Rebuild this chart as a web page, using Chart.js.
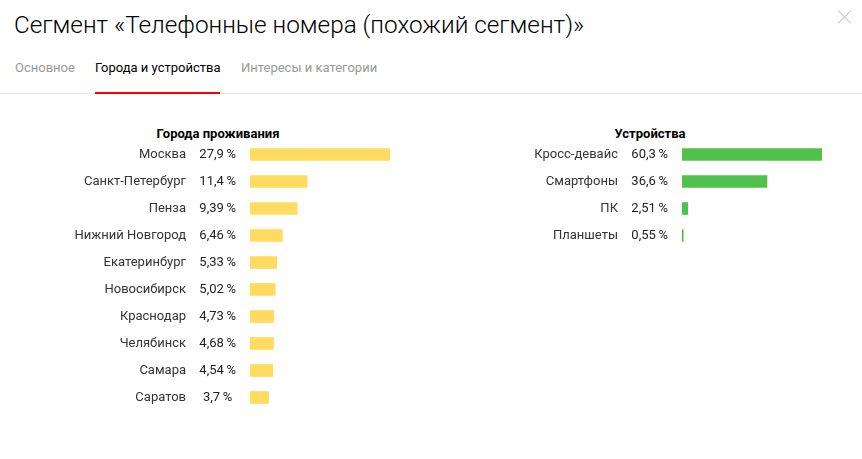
<!DOCTYPE html>
<html>
<head>
<meta charset="utf-8">
<script src="https://cdn.jsdelivr.net/npm/chart.js@4"></script>
<style>
  html, body { margin: 0; padding: 0; background: #fff; }
  body { width: 862px; height: 459px; position: relative; overflow: hidden; font-family: Roboto, "Open Sans", sans-serif; color: #000; }
  .titulo { position: absolute; left: 14px; top: 10px; font-size: 24.3px; font-weight: 300; white-space: nowrap; }
  .fechar { position: absolute; left: 838px; top: 10px; width: 14px; height: 14px; }
  .fechar:before, .fechar:after { content: ""; position: absolute; left: 6px; top: -2px; width: 1px; height: 18px; background: #c8c8c8; }
  .fechar:before { transform: rotate(45deg); }
  .fechar:after { transform: rotate(-45deg); }
  .abas { position: absolute; left: 0; top: 60px; width: 862px; height: 33px; border-bottom: 1px solid #e6e6e6; }
  .aba { position: absolute; top: 0; font-size: 13px; color: #999; white-space: nowrap; }
  .aba.ativa { color: #000; }
  .aba.ativa:after { content: ""; position: absolute; left: 0; right: 0; top: 32px; height: 2px; background: #f00; }
  .cabecalho { position: absolute; top: 126px; font-size: 13px; font-weight: bold; color: #000; transform: translateX(-50%); white-space: nowrap; }
  .caixa { position: absolute; }
</style>
</head>
<body>
<div class="titulo">Сегмент «Телефонные номера (похожий сегмент)»</div>
<div class="fechar"></div>
<div class="abas">
  <span class="aba" style="left:15px">Основное</span>
  <span class="aba ativa" style="left:95px">Города и устройства</span>
  <span class="aba" style="left:241px">Интересы и категории</span>
</div>
<div class="cabecalho" style="left:218px">Города проживания</div>
<div class="cabecalho" style="left:650px">Устройства</div>

<div class="caixa" style="left:40px; top:141px; width:350px; height:270px;"><canvas id="graficoCidades"></canvas></div>
<div class="caixa" style="left:480px; top:141px; width:342px; height:108px;"><canvas id="graficoDispositivos"></canvas></div>

<script>
var cidades = ['Москва', 'Санкт-Петербург', 'Пенза', 'Нижний Новгород', 'Екатеринбург', 'Новосибирск', 'Краснодар', 'Челябинск', 'Самара', 'Саратов'];
var valoresCidades = [27.9, 11.4, 9.39, 6.46, 5.33, 5.02, 4.73, 4.68, 4.54, 3.7];

var dispositivos = ['Кросс-девайс', 'Смартфоны', 'ПК', 'Планшеты'];
var valoresDispositivos = [60.3, 36.6, 2.51, 0.55];

var corCidades = '#ffdb60';
var corDispositivos = '#50c14b';

Chart.defaults.font.family = 'Roboto, "Open Sans", sans-serif';
Chart.defaults.font.size = 13;
Chart.defaults.color = '#333';

function formatarPercentual(v)
{
    return String(v).replace('.', ',') + '\u2009%';
}

// largura fixa do eixo e sem o respiro vertical que o Chart.js coloca
function fixarEixo(largura)
{
    return function (scale)
    {
        scale.width = largura;
        scale.paddingTop = 0;
        scale.paddingBottom = 0;
    };
}

function criarGrafico(idCanvas, rotulos, valores, cor, larguraNomes)
{
    var percentuais = valores.map(formatarPercentual);

    return new Chart(document.getElementById(idCanvas).getContext('2d'),
    {
        type: 'bar',
        data: {
            labels: rotulos,
            datasets: [{
                data: valores,
                backgroundColor: cor,
                borderWidth: 0,
                barThickness: 12
            }]
        },
        options: {
            indexAxis: 'y',
            responsive: true,
            maintainAspectRatio: false,
            animation: false,
            layout: { padding: 0 },
            plugins: {
                legend: { display: false },
                tooltip: { enabled: false }
            },
            scales: {
                x: {
                    display: false,
                    min: 0,
                    max: Math.max.apply(null, valores)
                },
                y: {
                    position: 'left',
                    weight: 1,
                    grid: { display: false, drawTicks: false },
                    border: { display: false },
                    ticks: { padding: 12, color: '#333', crossAlign: 'near', autoSkip: false },
                    afterFit: fixarEixo(larguraNomes)
                },
                yPct: {
                    type: 'category',
                    position: 'left',
                    weight: 0,
                    labels: percentuais,
                    grid: { display: false, drawTicks: false },
                    border: { display: false },
                    ticks: { padding: 14, color: '#222', crossAlign: 'center', autoSkip: false },
                    afterFit: fixarEixo(52)
                }
            }
        }
    });
}

criarGrafico('graficoCidades', cidades, valoresCidades, corCidades, 158);
criarGrafico('graficoDispositivos', dispositivos, valoresDispositivos, corDispositivos, 150);
</script>
</body>
</html>
